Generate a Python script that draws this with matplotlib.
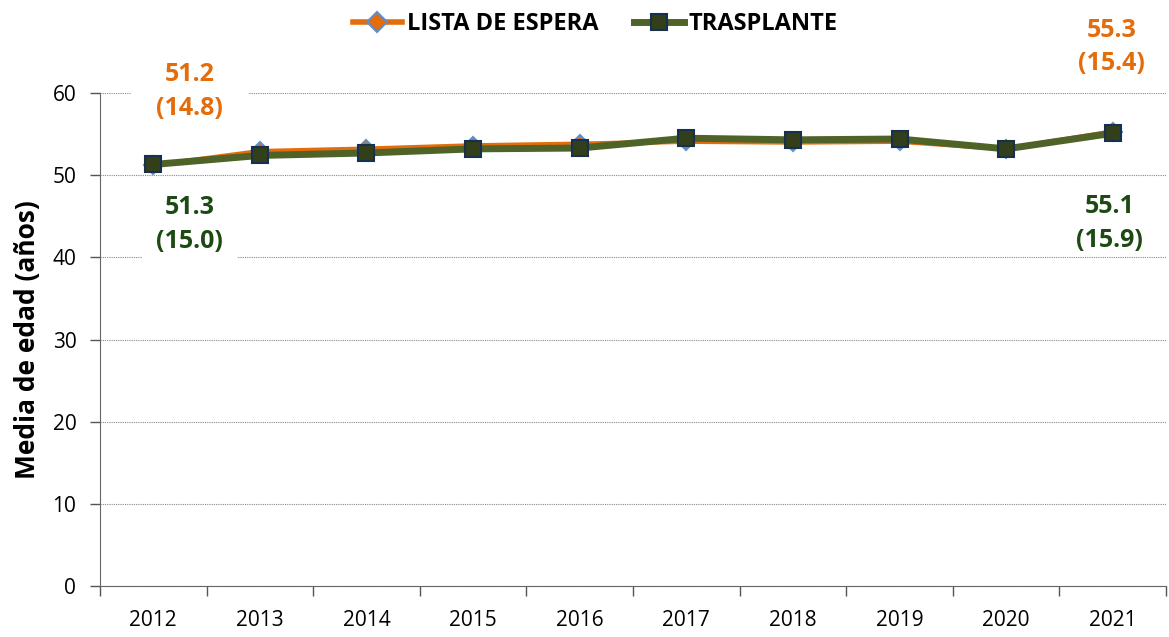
import numpy as np
import matplotlib.pyplot as plt
from matplotlib.lines import Line2D

plt.rcParams['font.family'] = ['Open Sans', 'DejaVu Sans']

years = ["2012", "2013", "2014", "2015", "2016", "2017", "2018", "2019", "2020", "2021"]
lista_espera = [51.2, 52.9, 53.2, 53.6, 53.8, 54.1, 54.0, 54.1, 53.2, 55.3]
trasplante = [51.3, 52.4, 52.7, 53.2, 53.3, 54.5, 54.3, 54.4, 53.2, 55.1]
lista_sd = {0: 14.8, 9: 15.4}
trasplante_sd = {0: 15.0, 9: 15.9}

c_lista = "#E46C0A"
c_tras = "#4F6228"
c_tras_txt = "#1D4A12"

fig = plt.figure(figsize=(11.69, 6.37), dpi=100)
ax = fig.add_axes([0.0855, 0.080, 0.912, 0.774])

x = np.arange(len(years))
ax.plot(x, lista_espera, color=c_lista, lw=3.5, marker="D", ms=9,
        mfc=c_lista, mec="#5B8FD0", mew=1.5, zorder=3)
ax.plot(x, trasplante, color=c_tras, lw=5, marker="s", ms=12,
        mfc="#333F1A", mec="#17304F", mew=1.5, zorder=4)

# mean (sd) labels at first and last year: (index, x shift, label y, box pad)
lista_pos = [(0, 0.34, 60.15, 1.0), (9, -0.01, 65.6, None)]
tras_pos = [(0, 0.34, 44.0, 0.55), (9, -0.03, 44.1, None)]
for series, sd, pos, col in [(lista_espera, lista_sd, lista_pos, c_lista),
                             (trasplante, trasplante_sd, tras_pos, c_tras_txt)]:
    for i, dx, ty, pad in pos:
        box = dict(boxstyle=f"square,pad={pad}", facecolor="white", edgecolor="none") if pad else None
        ax.text(x[i] + dx, ty, f"{series[i]:.1f}\n({sd[i]:.1f})", color=col,
                fontsize=18, fontweight="bold", ha="center", va="center",
                linespacing=1.45, bbox=box, zorder=5, clip_on=False)

ax.set_xlim(-0.5, len(years) - 0.5)
ax.set_ylim(0, 60)
ax.set_yticks(np.arange(0, 61, 10))
ax.set_xticks(x)
ax.set_xticklabels(years)
ax.set_xticks(np.arange(-0.5, len(years), 1), minor=True)
ax.tick_params(axis="x", which="major", length=0, pad=17, labelsize=15)
ax.tick_params(axis="x", which="minor", length=7, width=1, color="#555555", direction="out")
ax.tick_params(axis="y", length=7, width=1, color="#555555", labelsize=15, pad=10)
ax.yaxis.grid(True, color="#888888", linestyle=(0, (1, 1)), lw=0.8, zorder=0)
ax.set_axisbelow(True)
for s in ["top", "right"]:
    ax.spines[s].set_visible(False)
ax.spines["left"].set_color("#666666")
ax.spines["bottom"].set_color("#666666")
ax.set_ylabel("Media de edad (años)", fontsize=19, fontweight="bold", labelpad=8)

handles = [
    Line2D([], [], color=c_lista, lw=4, marker="D", ms=10, mfc=c_lista, mec="#5B8FD0", mew=1.5),
    Line2D([], [], color=c_tras, lw=5, marker="s", ms=11, mfc="#333F1A", mec="#17304F", mew=1.5),
]
fig.legend(handles, ["LISTA DE ESPERA", "TRASPLANTE"], loc="center", bbox_to_anchor=(0.509, 0.962),
           ncol=2, frameon=False, prop=dict(size=17, weight="bold"), handlelength=2.1,
           handletextpad=0.2, columnspacing=1.5)

fig.savefig("out.png", dpi=100)
